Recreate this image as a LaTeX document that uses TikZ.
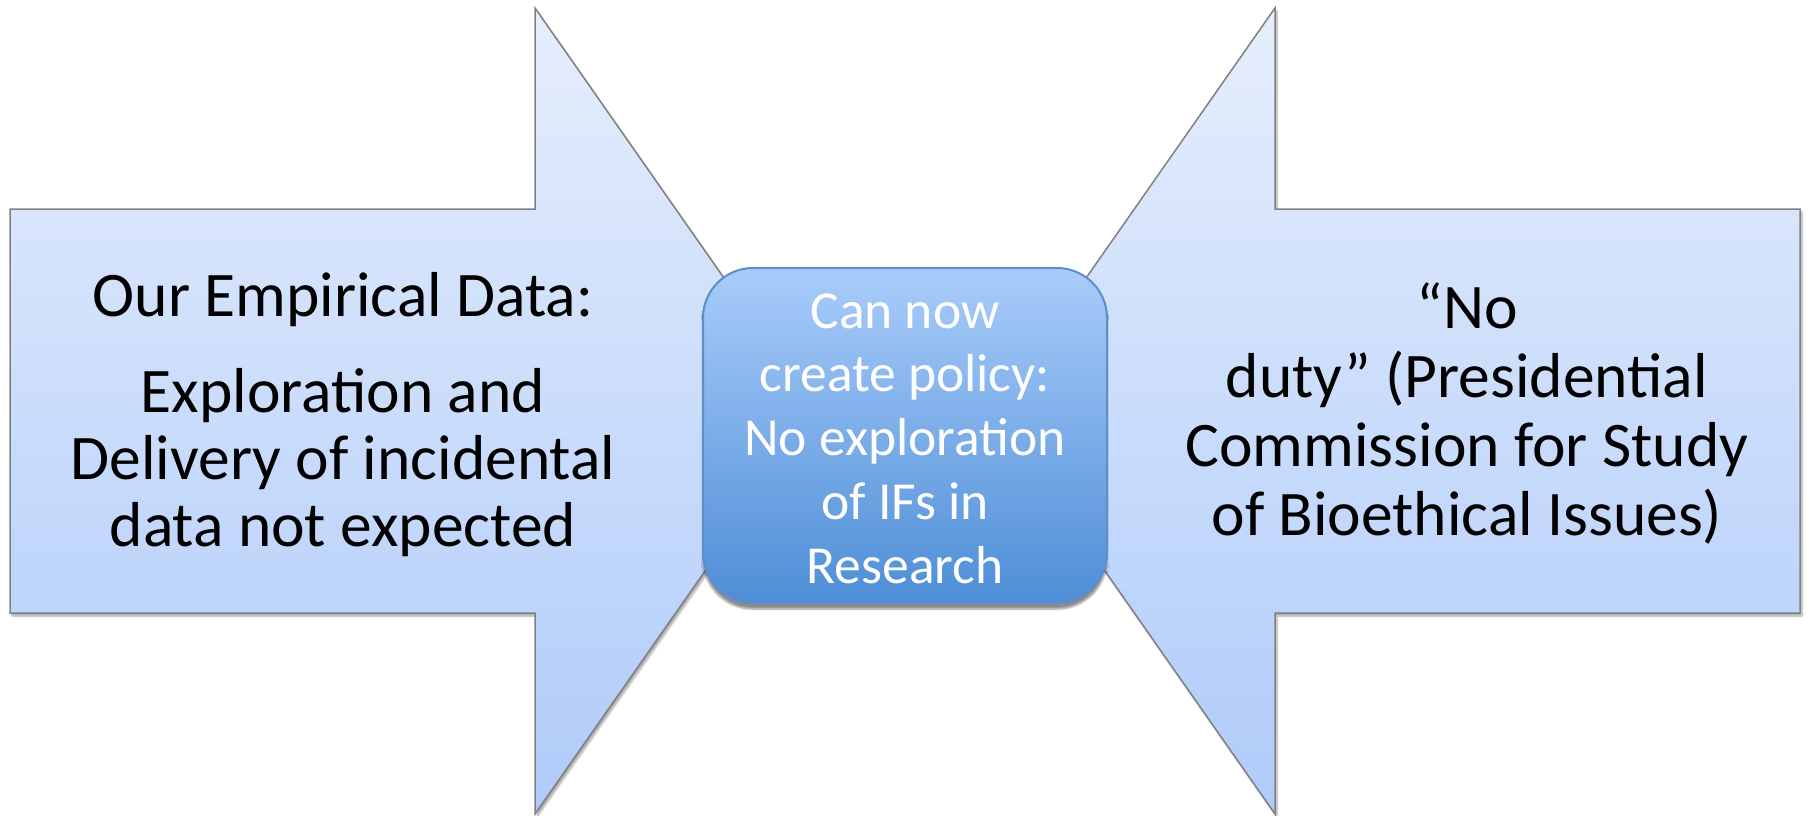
\documentclass[tikz,border=0pt]{standalone}
\usepackage{fontspec}
\setmainfont{Carlito}
\usetikzlibrary{shadows.blur}
\definecolor{arrtop}{HTML}{E6EEFC}
\definecolor{arrbot}{HTML}{AFCBFA}
\definecolor{boxtop}{HTML}{A9CCFA}
\definecolor{boxbot}{HTML}{4E8ED6}
\definecolor{boxline}{HTML}{5B8FCC}
\definecolor{arrline}{HTML}{808080}
\tikzset{
  bigarrow/.style={draw=arrline, line width=1.5pt, line join=miter,
    top color=arrtop, bottom color=arrbot,
    blur shadow={shadow xshift=2pt, shadow yshift=-3pt, shadow blur steps=6, shadow opacity=35}},
  centerbox/.style={draw=boxline, line width=2pt, rounded corners=50pt,
    top color=boxtop, bottom color=boxbot, minimum width=404pt, minimum height=335pt,
    blur shadow={shadow xshift=0pt, shadow yshift=-6pt, shadow blur steps=8, shadow opacity=45}},
  sidetext/.style={align=center, anchor=base, text=black},
  midtext/.style={align=center, anchor=base, text=white, font=\fontsize{53.5}{63.7}\selectfont},
}
\begin{document}
\begin{tikzpicture}[x=1pt, y=-1pt]
\useasboundingbox (0,0) rectangle (1810,816);
% left arrow
\path[bigarrow] (10,209) -- (535,209) -- (535,8) -- (817,411) -- (535,814) -- (535,613) -- (10,613) -- cycle;
% right arrow
\path[bigarrow] (1800,209) -- (1275,209) -- (1275,8) -- (993,411) -- (1275,814) -- (1275,613) -- (1800,613) -- cycle;
% center box
\node[centerbox] (box) at (905,435.5) {};
% texts
\node[sidetext, font=\fontsize{63.5}{66.6}\selectfont] (lefttext) at (343,546) {Our Empirical Data:\\[30pt]Exploration and\\Delivery of incidental\\data not expected};
\node[sidetext, font=\fontsize{63.5}{69}\selectfont] (righttext) at (1467,535) {“No\\duty” (Presidential\\Commission for Study\\of Bioethical Issues)};
\node[midtext] (midtext) at (905,583) {Can now\\create policy:\\No exploration\\of IFs in\\Research};
\end{tikzpicture}
\end{document}
